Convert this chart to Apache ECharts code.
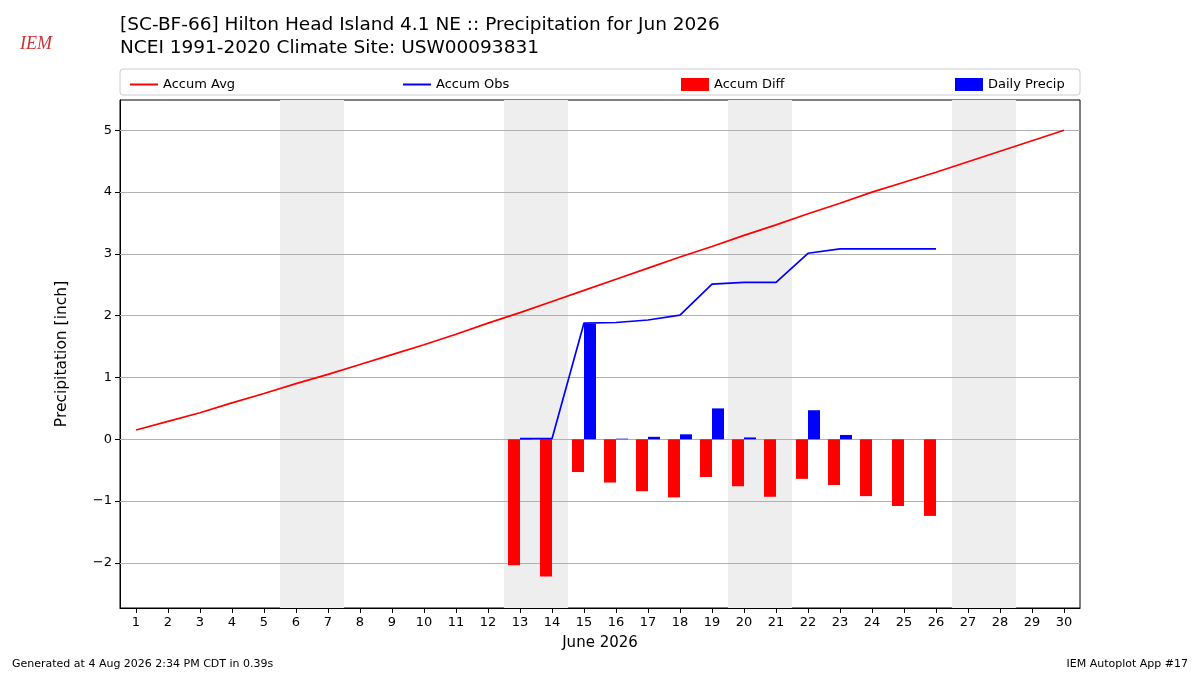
<!DOCTYPE html>
<html><head><meta charset="utf-8">
<script src="https://cdn.jsdelivr.net/npm/echarts@6/dist/echarts.min.js"></script>
<style>body{margin:0}#c{width:1200px;height:675px}</style></head>
<body><div id="c"></div>
<script>
const days = Array.from({length:30},(_,i)=>i+1);
const accumAvg = [0.15,0.29,0.43,0.59,0.74,0.90,1.05,1.21,1.37,1.53,1.70,1.88,2.05,2.23,2.41,2.59,2.77,2.95,3.12,3.30,3.47,3.65,3.82,4.00,4.16,4.32,4.49,4.66,4.83,5.00];
const accumObs = [null,null,null,null,null,null,null,null,null,null,null,null,0.01,0.01,1.88,1.89,1.93,2.01,2.51,2.54,2.54,3.01,3.08,3.08,3.08,3.08,null,null,null,null];
const accumDiff = [null,null,null,null,null,null,null,null,null,null,null,null,-2.04,-2.22,-0.53,-0.70,-0.84,-0.94,-0.61,-0.76,-0.93,-0.64,-0.74,-0.92,-1.08,-1.24,null,null,null,null];
const dailyPrecip = [null,null,null,null,null,null,null,null,null,null,null,null,0.01,0,1.87,0.01,0.04,0.08,0.50,0.03,0,0.47,0.07,0,0,0,null,null,null,null];
const weekends = [[5.5,7.5],[12.5,14.5],[19.5,21.5],[26.5,28.5]];
const yTicks = [-2,-1,0,1,2,3,4,5];
const F = 'DejaVu Sans';
const lineIcon = 'path://M0,5L28,5L28,7L0,7Z';
const pair = arr => arr.map((v,i)=>[days[i],v]).filter(p=>p[1]!==null);
function leg(name,left,icon){return {data:[{name,icon}],left,top:73,itemWidth:28,itemHeight:icon===lineIcon?12:13,textStyle:{fontFamily:F,fontSize:13,color:'#000'}};}
const chart = echarts.init(document.getElementById('c'));
chart.setOption({
  animation:false,
  textStyle:{fontFamily:F},
  title:[
    {text:'[SC-BF-66] Hilton Head Island 4.1 NE :: Precipitation for Jun 2026\nNCEI 1991-2020 Climate Site: USW00093831',left:120,top:14,padding:0,textStyle:{fontFamily:F,fontSize:18.5,fontWeight:'normal',lineHeight:23,color:'#000'}},
    {text:'Generated at 4 Aug 2026 2:34 PM CDT in 0.39s',left:12,top:659,padding:0,textStyle:{fontFamily:F,fontSize:11,fontWeight:'normal',color:'#000'}},
    {text:'IEM Autoplot App #17',right:12,top:659,padding:0,textStyle:{fontFamily:F,fontSize:11,fontWeight:'normal',color:'#000'}},
    {text:'IEM',left:20,top:35,padding:0,textStyle:{fontFamily:'Liberation Serif',fontSize:18,fontStyle:'italic',fontWeight:'normal',color:'#c33'}}
  ],
  graphic:[{type:'rect',shape:{x:120,y:69,width:960,height:26,r:3},style:{fill:'#fff',stroke:'#ccc',lineWidth:1},z:-1}],
  legend:[leg('Accum Avg',125,lineIcon),leg('Accum Obs',398,lineIcon),leg('Accum Diff',676,'rect'),leg('Daily Precip',950,'rect')],
  grid:{left:120,right:120,top:100,bottom:67,show:true,borderColor:'#000',borderWidth:1,backgroundColor:'transparent'},
  xAxis:{type:'value',min:0.5,max:30.5,name:'June 2026',nameLocation:'middle',nameGap:28,
    nameTextStyle:{fontSize:15,color:'#000'},axisLine:{onZero:false,lineStyle:{color:'#000'}},splitLine:{show:false},
    axisTick:{customValues:days,lineStyle:{color:'#000'}},axisLabel:{customValues:days,color:'#000',fontSize:13}},
  yAxis:{type:'value',min:-2.73,max:5.49,name:'Precipitation [inch]',nameLocation:'middle',nameGap:50,
    nameTextStyle:{fontSize:15.5,color:'#000'},axisLine:{show:true,lineStyle:{color:'#000'}},
    axisTick:{show:true,customValues:yTicks,lineStyle:{color:'#000'}},
    axisLabel:{color:'#000',fontSize:13,customValues:yTicks,formatter:v=>v<0?'\u2212'+(-v):String(v)},
    splitLine:{show:false}},
  series:[
    {name:'Accum Avg',type:'line',data:pair(accumAvg),symbol:'none',lineStyle:{color:'#f00',width:1.7},itemStyle:{color:'#f00'},z:5,
      markArea:{silent:true,itemStyle:{color:'#eeeeee'},data:weekends.map(w=>[{xAxis:w[0]},{xAxis:w[1]}])},
      markLine:{silent:true,symbol:'none',label:{show:false},lineStyle:{color:'#b0b0b0',type:'solid',width:1},z:1,data:yTicks.map(v=>({yAxis:v}))}},
    {name:'Accum Obs',type:'line',data:pair(accumObs),symbol:'none',lineStyle:{color:'#00f',width:1.7},itemStyle:{color:'#00f'},z:5},
    {name:'Accum Diff',type:'bar',data:pair(accumDiff),barWidth:12,barGap:'0%',itemStyle:{color:'#f00'},z:3},
    {name:'Daily Precip',type:'bar',data:pair(dailyPrecip),barWidth:12,barGap:'0%',itemStyle:{color:'#00f'},z:3}
  ]
});
</script></body></html>
